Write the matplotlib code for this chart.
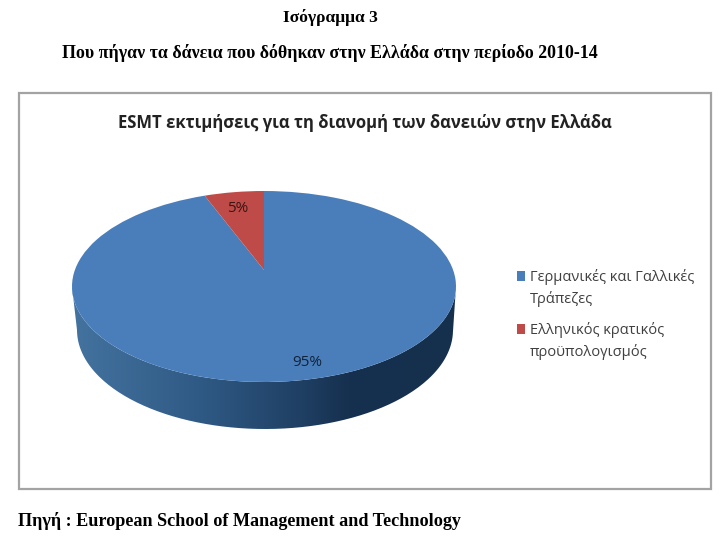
import numpy as np
import matplotlib
matplotlib.use("Agg")
import matplotlib.pyplot as plt
from matplotlib.colors import LinearSegmentedColormap
from matplotlib.patches import PathPatch, Rectangle
from matplotlib.path import Path

labels = ["Γερμανικές και Γαλλικές\nΤράπεζες", "Ελληνικός κρατικός\nπροϋπολογισμός"]
values = [95, 5]
colors = ["#4a7ebb", "#be4b48"]
value_labels = ["95%", "5%"]
heading = "Ισόγραμμα 3"
subheading = "Που πήγαν τα δάνεια που δόθηκαν στην Ελλάδα στην περίοδο 2010-14"
chart_title = "ESMT εκτιμήσεις για τη διανομή των δανειών στην Ελλάδα"
source = "Πηγή : European School of Management and Technology"

sans = ["Open Sans", "DejaVu Sans"]
serif = ["Liberation Serif", "DejaVu Serif"]

# pie geometry in pixels of the page
cx, cy, rx, ry = 264, 286.5, 192, 95.5
apex_y = 270
tilt = (cy - apex_y) / ry


def to_page(verts):
    # rim stays where it is, only the pie centre moves up
    x, y = verts[:, 0], verts[:, 1]
    shift = np.maximum(0, 1 - np.hypot(x, y)) * tilt
    return np.column_stack([cx + rx * x, cy - ry * (y + shift)])


fig = plt.figure(figsize=(7.2, 5.36), dpi=100, facecolor="white")
ax = fig.add_axes([0, 0, 1, 1])

wedges, _ = ax.pie(values, startangle=90, counterclock=False, colors=colors)
top_patches = []
for w in wedges:
    p = w.get_path()
    top_patches.append(PathPatch(Path(to_page(p.vertices), p.codes), facecolor=w.get_facecolor(), edgecolor="none", zorder=3))
    w.remove()
for p in top_patches:
    ax.add_patch(p)

# side of the cylinder
t = np.linspace(np.pi, 2 * np.pi, 200)
upper = np.column_stack([cx + rx * np.cos(t), cy - ry * np.sin(t)])
t2 = t[::-1]
lower = np.column_stack([265 + 188 * np.cos(t2), 330 - 99 * np.sin(t2)])
side = Path(np.vstack([upper, lower, upper[:1]]))
side_cmap = LinearSegmentedColormap.from_list(
    "side",
    [(0, "#44739f"), (0.33, "#2f5a85"), (0.6, "#1f3f63"), (0.72, "#16304f"), (1, "#15304d")],
)
img = ax.imshow(np.linspace(0, 1, 256)[None, :], cmap=side_cmap, extent=(72, 456, 429, 270), aspect="auto", zorder=2)
side_patch = PathPatch(side, transform=ax.transData, facecolor="none", edgecolor="none")
ax.add_patch(side_patch)
img.set_clip_path(side_patch)

ax.add_patch(Rectangle((19, 93), 692, 396, facecolor="none", edgecolor="#a3a3a3", linewidth=1.6, zorder=1))

ax.set_aspect("auto")
ax.set_xlim(0, 720)
ax.set_ylim(536, 0)
ax.axis("off")

ax.text(330, 17, heading, family=serif, fontsize=12.6, fontweight="bold", ha="center", va="center")
ax.text(330, 53, subheading, family=serif, fontsize=12.9, fontweight="bold", ha="center", va="center")
ax.text(365, 123, chart_title, family=sans, fontsize=11.95, fontweight="bold", color="#222222", ha="center", va="center")
ax.text(18, 521, source, family=serif, fontsize=13.05, fontweight="bold", ha="left", va="center")

ax.text(307, 362, value_labels[0], family=sans, fontsize=11, color="#10233a", ha="center", va="center", zorder=4)
ax.text(238, 208, value_labels[1], family=sans, fontsize=11, color="#3a1514", ha="center", va="center", zorder=4)

# legend by hand, the squares sit on the first line of each label
for label, color, y in zip(labels, colors, [276, 329]):
    ax.add_patch(Rectangle((517, y - 5), 8, 10, facecolor=color, edgecolor="none"))
    ax.text(530, y - 7, label, family=sans, fontsize=10.5, color="#404040", ha="left", va="top", linespacing=1.47)

fig.savefig("out.png", dpi=100)
